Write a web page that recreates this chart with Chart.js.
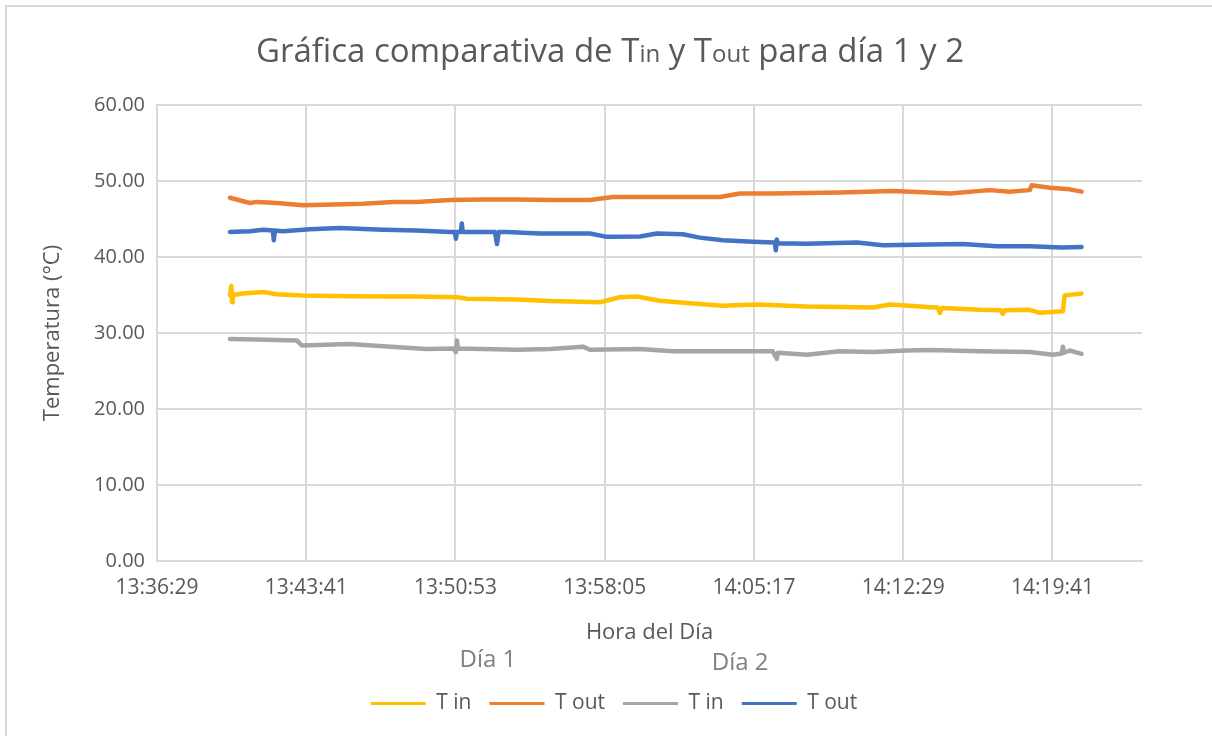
<!DOCTYPE html>
<html>
<head>
<meta charset="utf-8">
<title>Gráfica comparativa</title>
<script src="https://cdn.jsdelivr.net/npm/chart.js@4.4.1/dist/chart.umd.min.js"></script>
<style>
  html, body { margin: 0; padding: 0; background: #fff; }
  #wrap { width: 1212px; height: 736px; }
</style>
</head>
<body>
<div id="wrap"><canvas id="chart" width="1212" height="736"></canvas></div>
<script>
// datos (hora, temperatura en °C)
const tinDia1Times = ["13:40:00","13:40:04","13:40:06","13:40:08","13:40:38","13:41:36","13:42:16","13:43:31","13:45:47","13:47:23","13:49:01","13:50:57","13:51:26","13:53:51","13:55:26","13:57:51","13:58:49","13:59:38","14:00:44","14:02:11","14:03:47","14:05:25","14:07:50","14:10:15","14:11:01","14:11:50","14:12:57","14:13:46","14:14:09","14:14:15","14:14:21","14:16:10","14:17:11","14:17:17","14:17:23","14:18:35","14:19:04","14:20:11","14:20:16","14:21:00","14:21:05"];
const tinDia1 = [34.95,36.2,34.05,35.0,35.2,35.4,35.1,34.95,34.85,34.8,34.8,34.7,34.5,34.4,34.2,34.05,34.7,34.8,34.25,33.9,33.6,33.75,33.5,33.4,33.35,33.75,33.55,33.4,33.35,32.65,33.3,33.05,33.0,32.5,33.0,33.05,32.65,32.85,34.95,35.15,35.2];

const toutDia1Times = ["13:40:00","13:40:58","13:41:18","13:42:16","13:43:31","13:44:58","13:46:25","13:47:52","13:49:01","13:50:37","13:52:12","13:53:51","13:55:26","13:57:22","13:58:28","13:59:47","14:01:42","14:03:38","14:04:36","14:06:11","14:09:25","14:11:59","14:13:46","14:14:44","14:16:39","14:17:37","14:18:35","14:18:41","14:19:33","14:20:31","14:21:05"];
const toutDia1 = [47.8,47.1,47.25,47.1,46.8,46.9,47.0,47.25,47.25,47.5,47.55,47.55,47.5,47.5,47.9,47.9,47.9,47.9,48.35,48.35,48.5,48.7,48.5,48.35,48.8,48.6,48.8,49.45,49.1,48.9,48.6];

const tinDia2Times = ["13:40:00","13:41:47","13:43:14","13:43:28","13:45:47","13:47:23","13:49:30","13:50:46","13:50:54","13:50:57","13:51:00","13:52:12","13:53:51","13:55:26","13:57:02","13:57:22","13:59:47","14:01:22","14:03:47","14:06:11","14:06:23","14:06:26","14:07:50","14:09:25","14:11:01","14:12:39","14:13:46","14:16:10","14:18:35","14:19:42","14:20:08","14:20:11","14:20:14","14:20:31","14:21:05"];
const tinDia2 = [29.2,29.1,29.0,28.35,28.55,28.25,27.9,27.95,27.5,29.0,27.95,27.9,27.8,27.9,28.2,27.8,27.9,27.6,27.6,27.6,26.6,27.4,27.15,27.6,27.5,27.7,27.75,27.6,27.5,27.15,27.3,28.2,27.4,27.7,27.25];

const toutDia2Times = ["13:40:00","13:40:58","13:41:36","13:42:04","13:42:07","13:42:10","13:42:33","13:43:51","13:45:18","13:47:23","13:49:01","13:50:37","13:50:51","13:50:54","13:50:57","13:51:08","13:51:11","13:51:14","13:52:12","13:52:47","13:52:53","13:52:58","13:53:22","13:54:57","13:57:22","13:58:11","13:59:47","14:00:36","14:01:51","14:02:40","14:03:47","14:05:14","14:06:17","14:06:20","14:06:23","14:06:26","14:07:50","14:10:15","14:11:30","14:13:46","14:15:21","14:17:00","14:18:35","14:20:08","14:21:05"];
const toutDia2 = [43.3,43.4,43.6,43.5,42.2,43.5,43.4,43.65,43.8,43.6,43.5,43.3,43.3,42.4,43.3,43.3,44.4,43.3,43.3,43.3,41.7,43.3,43.3,43.1,43.1,42.65,42.7,43.1,43.0,42.55,42.2,42.0,41.9,40.9,42.3,41.8,41.75,41.9,41.55,41.65,41.7,41.4,41.4,41.25,41.3];

const seriesLabels = ["T in", "T out", "T in", "T out"];
const groupLabels = ["Día 1", "Día 2"];

// eje x en fracciones de dia (como Excel)
const xMinDays = 0.567;
const xMaxDays = 0.6;
const xStepDays = 0.005;
const yTicks = [0, 10, 20, 30, 40, 50, 60];

const colors = ["#FFC000", "#ED7D31", "#A5A5A5", "#4472C4"];
const textColor = "#595959";
const gridColor = "#D9D9D9";
const fontFamily = "'Open Sans', 'Liberation Sans', sans-serif";

function toSec(s) {
  const p = s.split(":").map(Number);
  return p[0] * 3600 + p[1] * 60 + p[2];
}
function fmtTime(v) {
  const s = Math.round(v);
  const h = Math.floor(s / 3600);
  const m = Math.floor((s % 3600) / 60);
  const ss = s % 60;
  return h + ":" + String(m).padStart(2, "0") + ":" + String(ss).padStart(2, "0");
}
function toPoints(times, vals) {
  return times.map((t, i) => ({ x: toSec(t), y: vals[i] }));
}

const xMin = xMinDays * 86400;
const xMax = xMaxDays * 86400;
const xStep = xStepDays * 86400;

const allSeries = [
  [tinDia1Times, tinDia1],
  [toutDia1Times, toutDia1],
  [tinDia2Times, tinDia2],
  [toutDia2Times, toutDia2],
];

const datasets = allSeries.map((s, i) => ({
  label: seriesLabels[i],
  data: toPoints(s[0], s[1]),
  borderColor: colors[i],
  backgroundColor: colors[i],
  borderWidth: 4.5,
  borderJoinStyle: "round",
  borderCapStyle: "round",
  pointRadius: 0,
  tension: 0,
  fill: false,
}));

const legendShift = 23;

// marco, titulo con "in"/"out" mas chicos y etiquetas Día 1 / Día 2
const decoPlugin = {
  id: "deco",
  afterUpdate(chart) {
    // la leyenda de Excel esta un poco corrida a la derecha
    const lg = chart.legend;
    lg.left += legendShift;
    lg.right += legendShift;
    (lg.legendHitBoxes || []).forEach(h => { h.left += legendShift; });
  },
  beforeDraw(chart) {
    const ctx = chart.ctx;
    ctx.save();
    ctx.fillStyle = "#fff";
    ctx.fillRect(0, 0, chart.width, chart.height);
    ctx.strokeStyle = gridColor;
    ctx.lineWidth = 2;
    ctx.strokeRect(6, 6, chart.width + 50, chart.height + 50);
    ctx.restore();
  },
  afterDraw(chart) {
    const ctx = chart.ctx;
    ctx.save();
    const parts = [
      ["Gráfica comparativa de T", 33],
      ["in", 24],
      [" y T", 33],
      ["out", 24],
      [" para día 1 y 2", 33],
    ];
    let total = 0;
    parts.forEach(p => {
      ctx.font = p[1] + "px " + fontFamily;
      total += ctx.measureText(p[0]).width;
    });
    let x = 610 - total / 2;
    ctx.fillStyle = textColor;
    ctx.textBaseline = "alphabetic";
    parts.forEach(p => {
      ctx.font = p[1] + "px " + fontFamily;
      ctx.fillText(p[0], x, 62);
      x += ctx.measureText(p[0]).width;
    });

    const hb = chart.legend.legendHitBoxes;
    if (hb && hb.length === 4) {
      ctx.font = "24px " + fontFamily;
      ctx.fillStyle = "#7F7F7F";
      ctx.textAlign = "center";
      ctx.textBaseline = "middle";
      const c1 = (hb[0].left + hb[1].left + hb[1].width) / 2;
      const c2 = (hb[2].left + hb[3].left + hb[3].width) / 2;
      ctx.fillText(groupLabels[0], c1, 660);
      ctx.fillText(groupLabels[1], c2, 663);
    }
    ctx.restore();
  },
};

new Chart(document.getElementById("chart"), {
  type: "line",
  data: { datasets: datasets },
  plugins: [decoPlugin],
  options: {
    responsive: false,
    animation: false,
    layout: { padding: { left: 40, right: 70, top: 105, bottom: 12 } },
    plugins: {
      title: { display: false },
      tooltip: { enabled: false },
      legend: {
        position: "bottom",
        labels: {
          color: textColor,
          font: { family: fontFamily, size: 21 },
          boxWidth: 55,
          boxHeight: 3,
          padding: 18,
          generateLabels(chart) {
            return Chart.defaults.plugins.legend.labels.generateLabels(chart)
              .map(l => Object.assign(l, { lineWidth: 0 }));
          },
        },
      },
    },
    scales: {
      x: {
        type: "linear",
        min: xMin,
        max: xMax,
        afterBuildTicks(scale) {
          const ticks = [];
          for (let v = xMin; v < xMax - 1; v += xStep) ticks.push({ value: v });
          scale.ticks = ticks;
        },
        afterFit(scale) { scale.height = 114; },
        grid: { color: gridColor, lineWidth: 2, drawTicks: false },
        border: { color: gridColor, width: 2 },
        ticks: {
          color: textColor,
          font: { family: fontFamily, size: 21 },
          padding: 14,
          maxRotation: 0,
          autoSkip: false,
          callback: v => fmtTime(v),
        },
        title: {
          display: true,
          text: "Hora del Día",
          color: textColor,
          font: { family: fontFamily, size: 22 },
          padding: { top: 0, bottom: 29 },
        },
      },
      y: {
        min: 0,
        max: 60,
        afterBuildTicks(scale) {
          scale.ticks = yTicks.map(v => ({ value: v }));
        },
        afterFit(scale) { scale.width = 117; },
        grid: { color: gridColor, lineWidth: 2, drawTicks: false },
        border: { color: gridColor, width: 2 },
        ticks: {
          color: textColor,
          font: { family: fontFamily, size: 20 },
          padding: 12,
          callback: v => v.toFixed(2),
        },
        title: {
          display: true,
          text: "Temperatura (°C)",
          color: textColor,
          font: { family: fontFamily, size: 22 },
          padding: 0,
        },
      },
    },
  },
});
</script>
</body>
</html>
